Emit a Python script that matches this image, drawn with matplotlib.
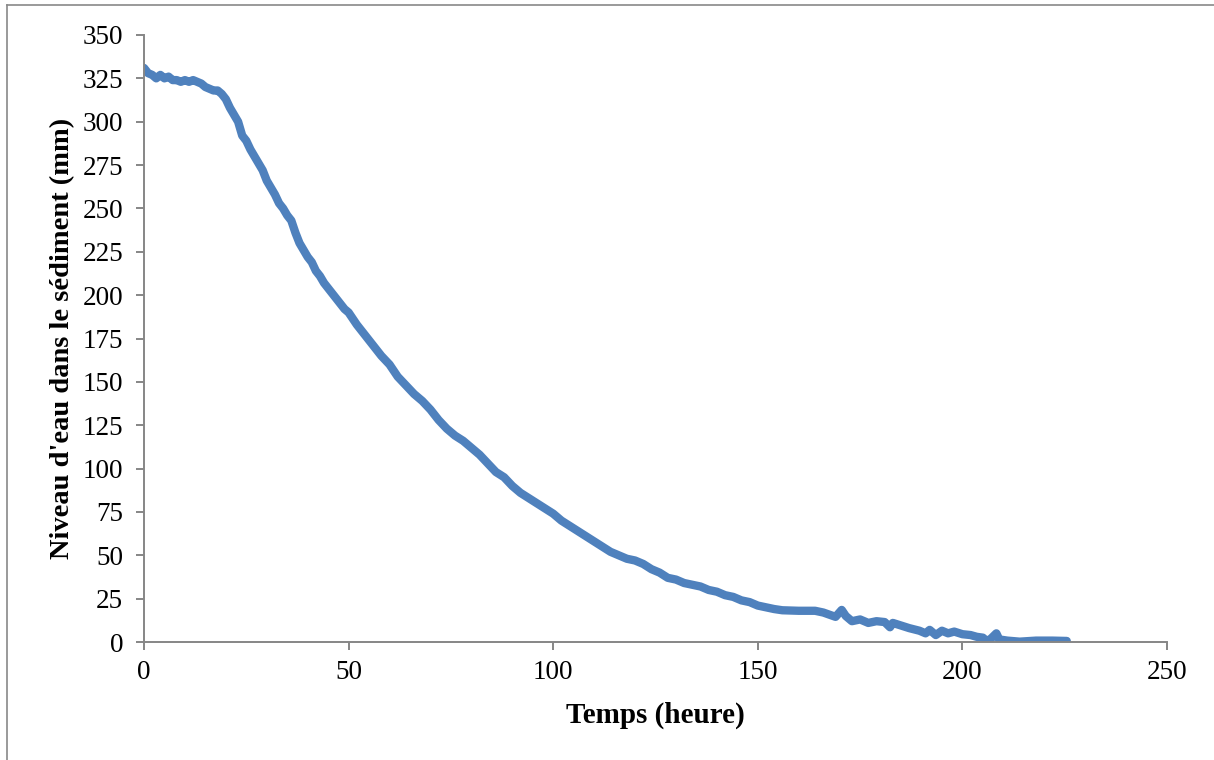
import numpy as np
import matplotlib
matplotlib.use('Agg')
import matplotlib.pyplot as plt
from matplotlib.lines import Line2D

# Time (hours) and water level (mm)
temps = [0, 1, 2, 3, 4, 5, 6, 7, 8, 9, 10, 11, 12, 13, 14, 15, 16, 17, 18, 19,
         20, 21, 22, 23, 24, 25, 26, 27, 28, 29, 30, 31, 32, 33, 34, 35, 36, 37, 38, 39,
         40, 41, 42, 43, 44, 45, 46, 47, 48, 49, 50, 52, 54, 56, 58, 60, 62, 64, 66, 68,
         70, 72, 74, 76, 78, 80, 82, 84, 86, 88, 90, 92, 94, 96, 98, 100, 102, 104, 106, 108,
         110, 112, 114, 116, 118, 120, 122, 124, 126, 128, 130, 132, 134, 136, 138, 140, 142, 144, 146, 148,
         150, 152, 154, 156, 160, 164, 166, 169, 170.5, 171.5, 173, 175, 177, 179, 181, 182.3, 183, 185, 187, 189.5,
         191, 192, 193.5, 195, 196.5, 198, 200, 202, 203.5, 205, 206, 207, 208.3, 209, 211, 214, 216, 218, 222, 225.5]
niveau = [331, 328, 327, 325, 327, 325, 326, 324, 324, 323, 324, 323, 324, 323, 322, 320, 319, 318, 318, 316,
          313, 308, 304, 300, 292, 289, 284, 280, 276, 272, 266, 262, 258, 253, 250, 246, 243, 236, 230, 226,
          222, 219, 214, 211, 207, 204, 201, 198, 195, 192, 190, 183, 177, 171, 165, 160, 153, 148, 143, 139,
          134, 128, 123, 119, 116, 112, 108, 103, 98, 95, 90, 86, 83, 80, 77, 74, 70, 67, 64, 61,
          58, 55, 52, 50, 48, 47, 45, 42, 40, 37, 36, 34, 33, 32, 30, 29, 27, 26, 24, 23,
          21, 20, 19, 18.3, 18, 18, 17, 14.5, 18.5, 15, 12, 13, 11, 12, 11.5, 8.5, 11, 9.5, 8, 6.5,
          5, 7, 4, 6.5, 5, 6, 4.5, 4, 3, 2.5, 0.5, 2, 5, 1.5, 0.8, 0.2, 0.5, 0.8, 0.8, 0.6]

plt.rcParams['font.family'] = ['Liberation Serif', 'DejaVu Serif']

fig = plt.figure(figsize=(12.14, 7.6), dpi=100)
ax = fig.add_axes([144 / 1214, 1 - 642 / 760, (1167 - 144) / 1214, (642 - 35) / 760])

ax.plot(temps, niveau, color='#4F81BD', linewidth=6, solid_joinstyle='round', solid_capstyle='round')

ax.set_xlim(0, 250)
ax.set_ylim(0, 350)
ax.set_xticks(np.arange(0, 251, 50))
ax.set_yticks(np.arange(0, 351, 25))

for side in ['top', 'right']:
    ax.spines[side].set_visible(False)
for side in ['left', 'bottom']:
    ax.spines[side].set_color('#868686')
    ax.spines[side].set_linewidth(1.4)

ax.tick_params(axis='both', direction='out', length=6, width=1.4, color='#868686', labelsize=19.5)
ax.tick_params(axis='y', pad=9)
ax.tick_params(axis='x', pad=7)

ax.set_xlabel('Temps (heure)', fontsize=21, fontweight='bold', labelpad=12)
ax.set_ylabel("Niveau d'eau dans le sédiment (mm)", fontsize=20.5, fontweight='bold', labelpad=5)

# outer chart border (only top and left visible in the original)
fig.add_artist(Line2D([7 / 1214, 7 / 1214], [0, 1 - 5 / 760], transform=fig.transFigure, color='#898989', linewidth=1.2))
fig.add_artist(Line2D([7 / 1214, 1], [1 - 5 / 760, 1 - 5 / 760], transform=fig.transFigure, color='#898989', linewidth=1.2))

fig.savefig('out.png', dpi=100)
